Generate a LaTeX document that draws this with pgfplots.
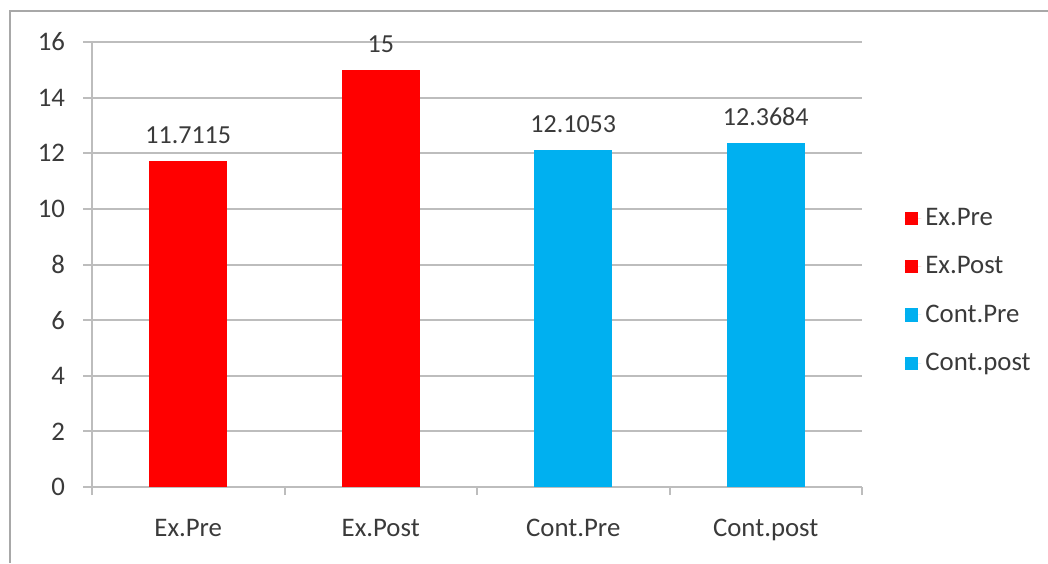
\documentclass[border=0pt]{standalone}
\usepackage{pgfplots}
\pgfplotsset{compat=1.18}
\usepackage{fontspec}
\setmainfont{Carlito}

\definecolor{exred}{HTML}{FF0000}
\definecolor{contblue}{HTML}{00B0F0}
\definecolor{gridgray}{HTML}{BDBDBD}
\definecolor{txt}{HTML}{3A3A3A}
\definecolor{framegray}{HTML}{A8A8A8}

\begin{document}
\begin{tikzpicture}
\useasboundingbox (0,0) rectangle (524pt,281.5pt);
% outer chart frame
\draw[framegray, line width=1pt] (5pt,0) -- (5pt,276pt) -- (524pt,276pt);
\begin{axis}[
  at={(46pt,38pt)}, anchor=south west,
  scale only axis,
  width=385pt, height=222.5pt,
  ybar, bar width=0.405, bar shift=0pt,
  xmin=-0.5, xmax=3.5,
  ymin=0, ymax=16,
  ytick={0,2,...,16},
  xtick={0,1,2,3},
  xticklabels={Ex.Pre, Ex.Post, Cont.Pre, Cont.post},
  minor xtick={-0.5,0.5,1.5,2.5,3.5},
  major x tick style={draw=none},
  minor x tick style={gridgray, line width=1pt},
  minor tick length=4pt,
  major tick length=4.5pt,
  tick align=outside,
  ytick style={gridgray, line width=1pt},
  ymajorgrids,
  grid style={gridgray, line width=1pt},
  axis x line*=bottom, axis y line*=left,
  axis line style={gridgray, line width=1pt},
  tick label style={font=\fontsize{13.4}{15}\selectfont, text=txt},
  /pgf/number format/assume math mode=true,
  xticklabel style={yshift=-8pt},
  yticklabel style={xshift=-5.5pt},
  nodes near coords,
  every node near coord/.append style={font=\fontsize{13}{15}\selectfont, text=txt, anchor=center, yshift=13pt},
  point meta=explicit symbolic,
  legend style={draw=none, fill=none, at={(1.047,0.645)}, anchor=north west,
    font=\fontsize{13.4}{15}\selectfont, text=txt, row sep=10pt},
  legend cell align=left,
  legend image code/.code={%
    \path (0pt,0pt) -- (8.4pt,0pt);
    \fill[#1] (0pt,-3.3pt) rectangle (6.6pt,3.3pt);},
]
\addplot[fill=exred, draw=none] coordinates {(0,11.7115) [11.7115]};
\addlegendentry{Ex.Pre}
\addplot[fill=exred, draw=none] coordinates {(1,15) [15]};
\addlegendentry{Ex.Post}
\addplot[fill=contblue, draw=none] coordinates {(2,12.1053) [12.1053]};
\addlegendentry{Cont.Pre}
\addplot[fill=contblue, draw=none] coordinates {(3,12.3684) [12.3684]};
\addlegendentry{Cont.post}
\end{axis}
\end{tikzpicture}
\end{document}
